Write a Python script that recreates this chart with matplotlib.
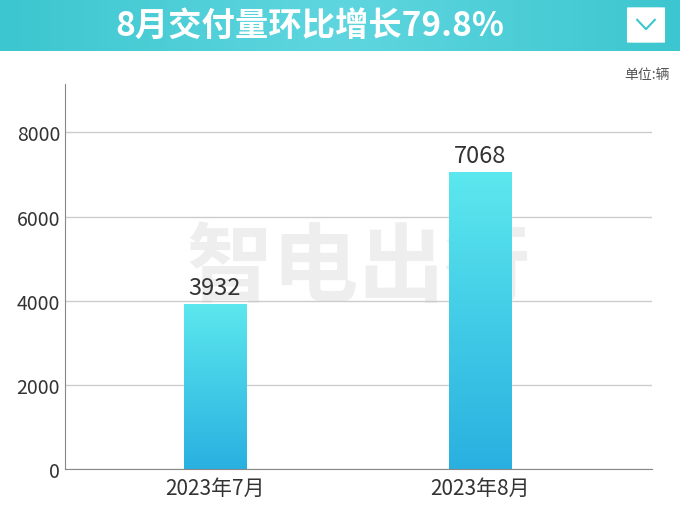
import numpy as np
import matplotlib.pyplot as plt
from matplotlib.patches import FancyBboxPatch

plt.rcParams['font.family'] = ['Noto Sans CJK SC', 'DejaVu Sans']

categories = ['2023年7月', '2023年8月']
values = [3932, 7068]
yticks = [0, 2000, 4000, 6000, 8000]
title = '8月交付量环比增长79.8%'

fig = plt.figure(figsize=(6.8, 5.1), dpi=100)

# header banner with gradient
hax = fig.add_axes([0, 1 - 52/510, 1, 52/510])
grad = np.linspace(0, 1, 256).reshape(1, -1)
hax.imshow(grad, aspect='auto', cmap=plt.matplotlib.colors.LinearSegmentedColormap.from_list(
    'h', ['#3cc6cf', '#5fd6df', '#3cc6cf']), extent=[0, 1, 0, 1])
hax.set_xlim(0, 1); hax.set_ylim(0, 1); hax.axis('off')
hax.text(0.455, 0.5, title, color='white', fontsize=24, fontweight='bold',
         ha='center', va='center')
hax.add_patch(FancyBboxPatch((0.922, 0.16), 0.056, 0.68, boxstyle='round,pad=0,rounding_size=0.012',
                             fc='white', ec='none', mutation_aspect=0.3))
hax.plot([0.937, 0.95, 0.963], [0.6, 0.42, 0.6], color='#3cc6cf', lw=1.5)

fig.text(0.985, 1 - 75/510, '单位:辆', ha='right', va='center', fontsize=10, color='#555555')

ax = fig.add_axes([65/680, 40/510, 587/680, 385/510])
x = np.arange(len(categories))
w = 0.234

# watermark
ax.text(0.5, 0.52, '智电出行', transform=ax.transAxes, ha='center', va='center',
        fontsize=62, fontweight='bold', color='#eeeeee', zorder=0)

cmap = plt.matplotlib.colors.LinearSegmentedColormap.from_list('b', ['#29b0e0', '#5ce8ee'])
bars = ax.bar(x, values, width=w, color='none', zorder=2)
for b, v in zip(bars, values):
    im = ax.imshow(np.linspace(0, 1, 256).reshape(-1, 1), cmap=cmap, origin='lower', aspect='auto',
                   extent=[b.get_x(), b.get_x() + w, 0, v], zorder=2)
    im.set_clip_path(b)
    ax.text(b.get_x() + w/2, v + 120, str(v), ha='center', va='bottom', fontsize=17, color='#333333', zorder=3)
ax.set_xlim(-0.566, 1.649)
ax.set_ylim(0, 9150)

ax.set_yticks(yticks)
ax.yaxis.grid(True, color='#cccccc', lw=1)
ax.set_axisbelow(True)
ax.set_xticks(x)
ax.set_xticklabels(categories, fontsize=15, color='#333333')
ax.tick_params(axis='y', labelsize=14, colors='#333333', length=0)
ax.tick_params(axis='x', length=0, pad=6)
for s in ['top', 'right']:
    ax.spines[s].set_visible(False)
ax.spines['left'].set_color('#888888')
ax.spines['bottom'].set_color('#888888')

fig.savefig('out.png', dpi=100)
